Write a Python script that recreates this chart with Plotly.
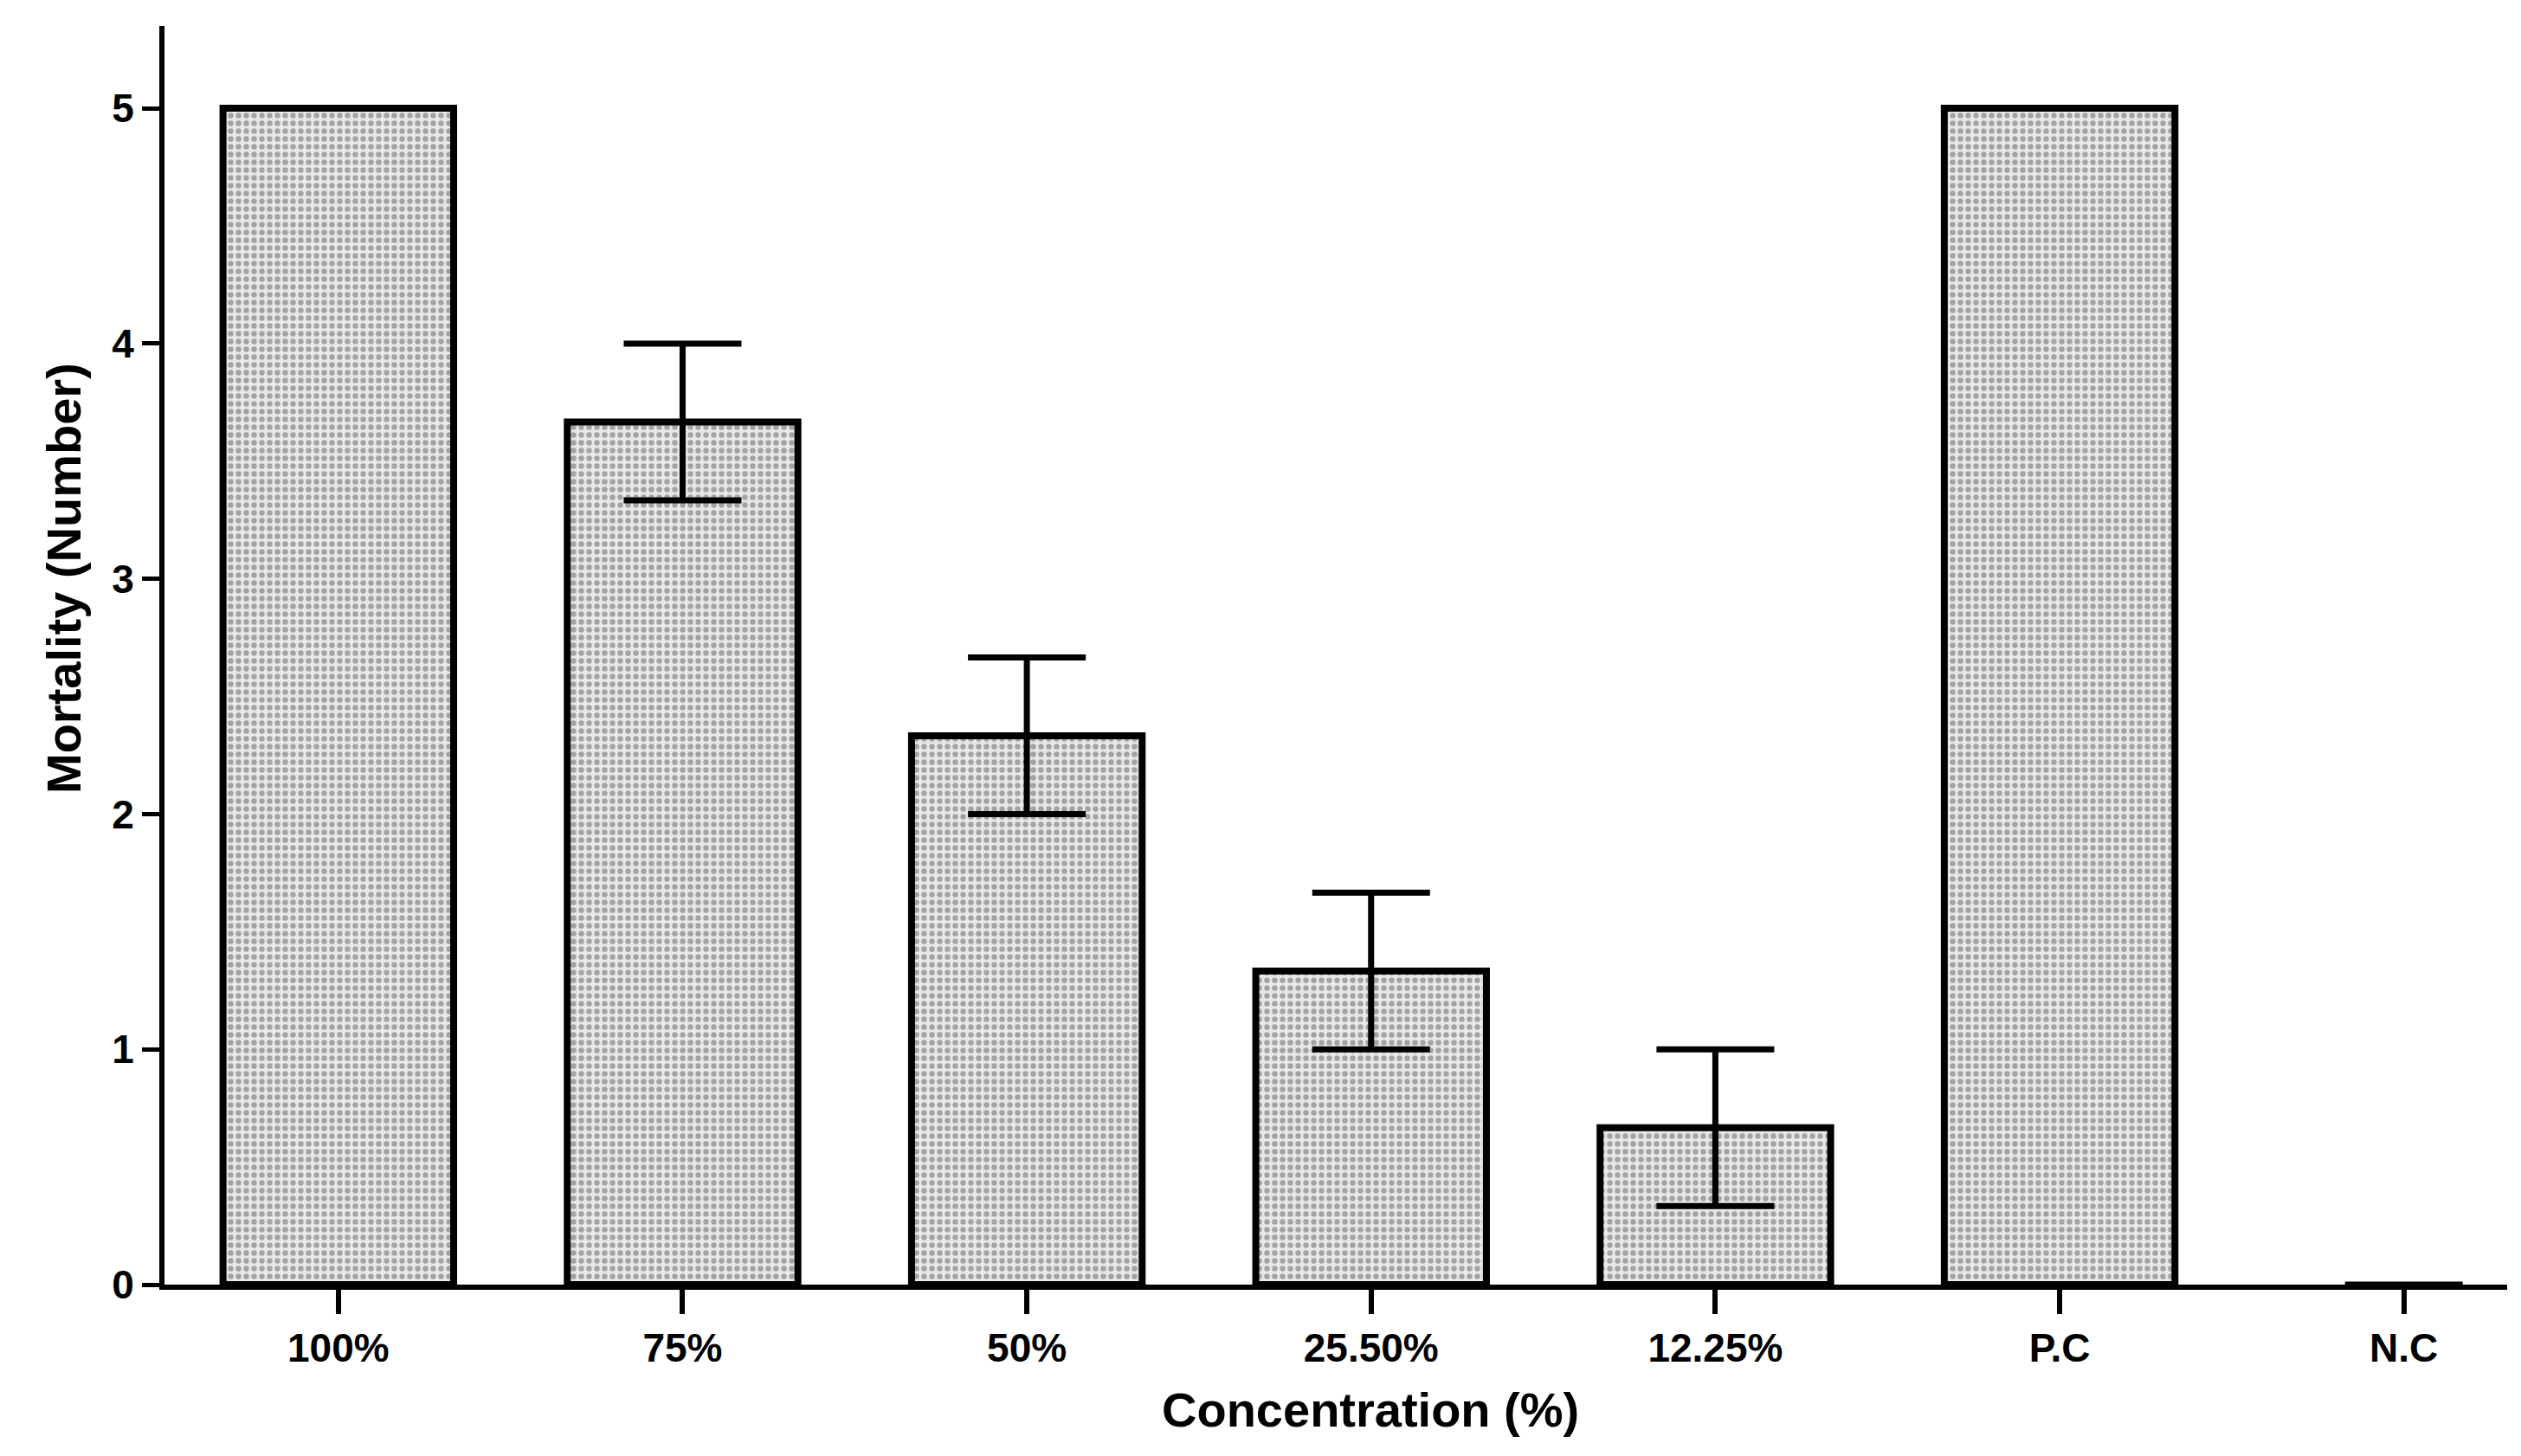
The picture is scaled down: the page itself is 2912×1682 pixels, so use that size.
import plotly.graph_objects as go

categories = ["100%", "75%", "50%", "25.50%", "12.25%", "P.C", "N.C"]
mortality = [5, 3.667, 2.333, 1.333, 0.667, 5, 0]
sem = [0, 0.333, 0.333, 0.333, 0.333, 0, 0]
y_ticks = [0, 1, 2, 3, 4, 5]

W, H = 2912, 1682
L, R, T, B = 182, 24, 22, 206
XRANGE = [-0.505, 6.3]

outline_w = [0 if v == 0 else 8 for v in mortality]

fig = go.Figure()
fig.add_trace(go.Bar(
    x=categories,
    y=mortality,
    width=0.67,
    marker=dict(
        color="#e0e0e0",
        line=dict(color="black", width=outline_w),
        pattern=dict(shape=".", fgcolor="#5e5e5e", bgcolor="#e8e8e8", size=9, solidity=0.4),
    ),
    error_y=dict(type="data", array=sem, visible=True, color="black", thickness=7, width=68),
))

fig.update_layout(
    width=W, height=H,
    margin=dict(l=L, r=R, t=T, b=B),
    paper_bgcolor="white", plot_bgcolor="white",
    showlegend=False,
    font=dict(family="Liberation Sans, Arial, sans-serif", color="black"),
)
fig.update_xaxes(
    type="category",
    range=XRANGE,
    ticks="outside", ticklen=28, tickwidth=6, tickcolor="black",
    showline=True, linecolor="black", linewidth=6,
    showgrid=False, zeroline=False,
    tickfont=dict(size=46, family="Liberation Sans, Arial, sans-serif", weight="bold"),
)
fig.update_yaxes(
    range=[0, 5.35],
    tickmode="array", tickvals=y_ticks,
    ticks="outside", ticklen=20, tickwidth=5, tickcolor="black",
    showline=True, linecolor="black", linewidth=6,
    showgrid=False, zeroline=False,
    tickfont=dict(size=46, family="Liberation Sans, Arial, sans-serif", weight="bold"),
)

fig.add_annotation(
    text="<b>Concentration (%)</b>", xref="paper", yref="paper",
    x=(1575 - L) / (W - L - R), y=-(1620 - (H - B)) / (H - T - B),
    showarrow=False, font=dict(size=56), xanchor="center", yanchor="middle",
)
fig.add_annotation(
    text="<b>Mortality (Number)</b>", xref="paper", yref="paper",
    x=-(L - 65) / (W - L - R), y=(H - B - 660) / (H - T - B),
    showarrow=False, font=dict(size=56), textangle=-90, xanchor="center", yanchor="middle",
)

fig.write_html("out.html")
